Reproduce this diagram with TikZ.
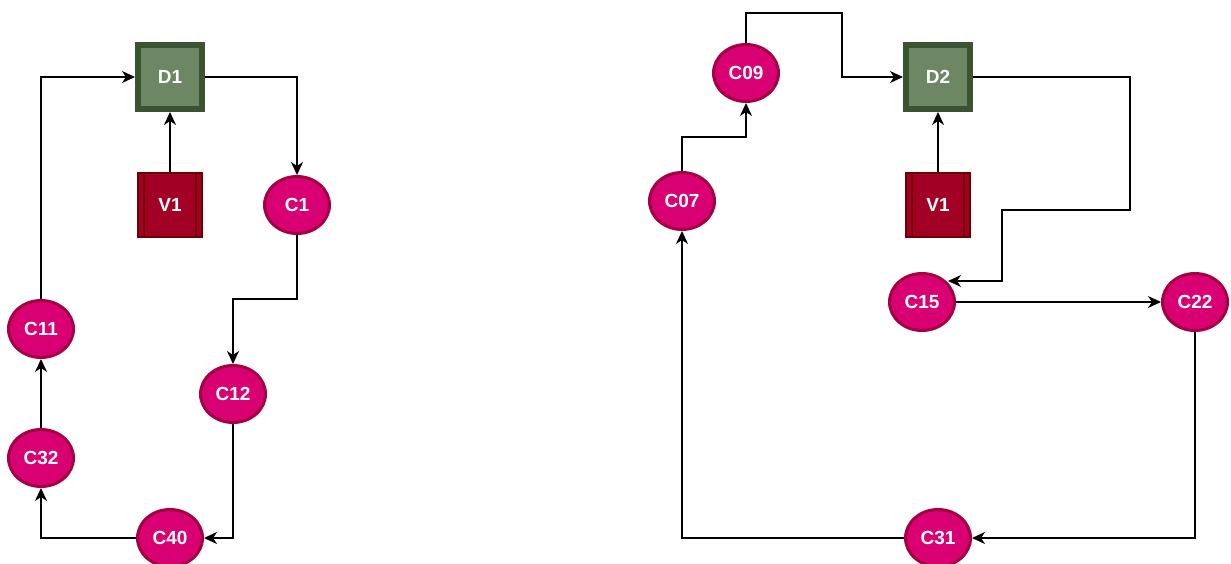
\documentclass[tikz,border=0pt]{standalone}
\usepackage{fontspec}
\setmainfont{Liberation Sans}
\usetikzlibrary{shapes.geometric,arrows.meta}
\definecolor{cfill}{HTML}{D80073}
\definecolor{cline}{HTML}{A50040}
\definecolor{dfill}{HTML}{6D8764}
\definecolor{dline}{HTML}{3A5431}
\definecolor{vfill}{HTML}{A20025}
\definecolor{vline}{HTML}{6F0000}
\tikzset{
  lbl/.style={text=white,font=\fontsize{19}{22}\selectfont\bfseries},
  cnode/.style={lbl,ellipse,draw=cline,fill=cfill,line width=3pt,minimum width=65pt,minimum height=57pt,inner sep=0pt},
  dnode/.style={lbl,rectangle,draw=dline,fill=dfill,line width=6pt,minimum width=64pt,minimum height=64pt,inner sep=0pt},
  vnode/.style={lbl,rectangle,draw=vline,fill=vfill,line width=1.2pt,minimum width=64pt,minimum height=64pt,inner sep=0pt,
    path picture={
      \draw[vline,line width=1.2pt] ([xshift=6pt]path picture bounding box.north west) -- ([xshift=6pt]path picture bounding box.south west);
      \draw[vline,line width=1.2pt] ([xshift=-6pt]path picture bounding box.north east) -- ([xshift=-6pt]path picture bounding box.south east);
    }},
  conn/.style={draw=black,line width=1.4pt,-{Stealth[length=13pt,width=12pt,inset=4pt]}},
}
\begin{document}
\begin{tikzpicture}[x=1pt,y=-1pt]
\useasboundingbox (0,0) rectangle (1231,564);
% left
\node[dnode] (D1) at (170,77) {D1};
\node[vnode] (V1a) at (170,205) {V1};
\node[cnode] (C1) at (297,205) {C1};
\node[cnode] (C12) at (233,394) {C12};
\node[cnode] (C11) at (41,329) {C11};
\node[cnode] (C32) at (41,458) {C32};
\node[cnode] (C40) at (170,538) {C40};
\draw[conn] (C11.north) |- (D1.west);
\draw[conn] (D1.east) -| (C1.north);
\draw[conn] (V1a.north) -- (D1.south);
\draw[conn] (C1.south) -- (297,299) -| (C12.north);
\draw[conn] (C12.south) |- (C40.east);
\draw[conn] (C40.west) -| (C32.south);
\draw[conn] (C32.north) -- (C11.south);
% right
\node[cnode] (C09) at (746,73) {C09};
\node[cnode] (C07) at (682,201) {C07};
\node[dnode] (D2) at (938,77) {D2};
\node[vnode] (V1b) at (938,205) {V1};
\node[cnode] (C15) at (922,302) {C15};
\node[cnode] (C22) at (1195,302) {C22};
\node[cnode] (C31) at (938,538) {C31};
\coordinate (c15in) at (948,281);
\draw[conn] (C07.north) -- (682,137) -| (C09.south);
\draw[conn] (C09.north) -- (746,13) -- (842,13) |- (D2.west);
\draw[conn] (V1b.north) -- (D2.south);
\draw[conn] (D2.east) -- (1130,77) -- (1130,210) -- (1002,210) |- (c15in);
\draw[conn] (C15.east) -- (C22.west);
\draw[conn] (C22.south) |- (C31.east);
\draw[conn] (C31.west) -| (C07.south);
\end{tikzpicture}
\end{document}
